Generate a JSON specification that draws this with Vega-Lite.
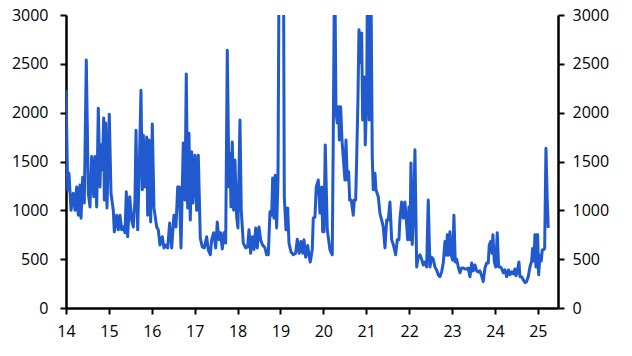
{
  "$schema": "https://vega.github.io/schema/vega-lite/v6.json",
  "width": 492,
  "height": 293,
  "autosize": {"type": "none"},
  "padding": {"left": 66, "top": 15, "right": 74, "bottom": 48},
  "background": "white",
  "config": {
    "view": {"stroke": null},
    "axis": {
      "grid": false,
      "domainColor": "black",
      "domainWidth": 2.5,
      "tickColor": "black",
      "tickWidth": 2,
      "tickSize": 6,
      "labelFont": "Open Sans",
      "labelFontSize": 16,
      "labelColor": "black",
      "titleFont": "Open Sans"
    }
  },
  "data": {
    "values": [
      {"t":14.0,"v":2230},{"t":14.04,"v":1210},{"t":14.07,"v":1380},{"t":14.117,"v":1000},{"t":14.17,"v":1175},{"t":14.21,"v":1000},{"t":14.249,"v":1240},{"t":14.287,"v":950},{"t":14.326,"v":1260},{"t":14.35,"v":920},{"t":14.389,"v":1340},{"t":14.427,"v":1075},{"t":14.473,"v":2540},{"t":14.52,"v":1175},{"t":14.559,"v":1035},{"t":14.599,"v":1550},{"t":14.646,"v":1140},{"t":14.676,"v":1550},{"t":14.716,"v":1035},{"t":14.753,"v":2045},{"t":14.793,"v":1240},{"t":14.816,"v":1670},{"t":14.846,"v":1415},{"t":14.879,"v":1945},{"t":14.893,"v":1105},{"t":14.925,"v":1895},{"t":14.956,"v":1025},{"t":15.009,"v":1985},{"t":15.049,"v":1175},{"t":15.103,"v":1000},{"t":15.126,"v":780},{"t":15.182,"v":950},{"t":15.219,"v":800},{"t":15.259,"v":950},{"t":15.298,"v":800},{"t":15.336,"v":830},{"t":15.375,"v":770},{"t":15.406,"v":1190},{"t":15.438,"v":730},{"t":15.485,"v":1140},{"t":15.531,"v":900},{"t":15.569,"v":830},{"t":15.608,"v":1105},{"t":15.632,"v":1820},{"t":15.671,"v":800},{"t":15.709,"v":1445},{"t":15.748,"v":2230},{"t":15.779,"v":1210},{"t":15.802,"v":1770},{"t":15.841,"v":1240},{"t":15.881,"v":1750},{"t":15.904,"v":950},{"t":15.935,"v":1720},{"t":15.974,"v":880},{"t":16.012,"v":1885},{"t":16.051,"v":1025},{"t":16.114,"v":830},{"t":16.152,"v":800},{"t":16.191,"v":645},{"t":16.245,"v":730},{"t":16.284,"v":615},{"t":16.331,"v":645},{"t":16.371,"v":615},{"t":16.417,"v":870},{"t":16.464,"v":615},{"t":16.517,"v":950},{"t":16.564,"v":830},{"t":16.604,"v":1240},{"t":16.641,"v":1240},{"t":16.681,"v":615},{"t":16.734,"v":1690},{"t":16.774,"v":1105},{"t":16.804,"v":2395},{"t":16.837,"v":1025},{"t":16.867,"v":1790},{"t":16.897,"v":900},{"t":16.93,"v":1600},{"t":16.96,"v":1075},{"t":17.007,"v":1565},{"t":17.047,"v":1000},{"t":17.084,"v":1565},{"t":17.131,"v":715},{"t":17.177,"v":625},{"t":17.224,"v":615},{"t":17.28,"v":730},{"t":17.317,"v":595},{"t":17.364,"v":545},{"t":17.396,"v":700},{"t":17.443,"v":770},{"t":17.49,"v":615},{"t":17.527,"v":880},{"t":17.566,"v":700},{"t":17.606,"v":770},{"t":17.643,"v":605},{"t":17.683,"v":770},{"t":17.723,"v":665},{"t":17.76,"v":2640},{"t":17.8,"v":1240},{"t":17.823,"v":1585},{"t":17.846,"v":1035},{"t":17.876,"v":1700},{"t":17.909,"v":1000},{"t":17.939,"v":1515},{"t":17.979,"v":930},{"t":18.009,"v":820},{"t":18.056,"v":1925},{"t":18.086,"v":1000},{"t":18.133,"v":665},{"t":18.189,"v":615},{"t":18.235,"v":625},{"t":18.266,"v":800},{"t":18.305,"v":560},{"t":18.343,"v":730},{"t":18.382,"v":600},{"t":18.422,"v":820},{"t":18.459,"v":615},{"t":18.499,"v":830},{"t":18.538,"v":700},{"t":18.576,"v":650},{"t":18.639,"v":615},{"t":18.678,"v":545},{"t":18.716,"v":545},{"t":18.755,"v":985},{"t":18.795,"v":950},{"t":18.818,"v":1330},{"t":18.848,"v":920},{"t":18.879,"v":1360},{"t":18.911,"v":820},{"t":18.942,"v":1310},{"t":18.975,"v":4200},{"t":19.02,"v":3900},{"t":19.065,"v":4200},{"t":19.089,"v":1140},{"t":19.128,"v":800},{"t":19.168,"v":1025},{"t":19.198,"v":665},{"t":19.245,"v":575},{"t":19.298,"v":545},{"t":19.354,"v":560},{"t":19.392,"v":705},{"t":19.438,"v":560},{"t":19.478,"v":680},{"t":19.518,"v":560},{"t":19.548,"v":700},{"t":19.587,"v":520},{"t":19.634,"v":640},{"t":19.664,"v":540},{"t":19.695,"v":470},{"t":19.741,"v":600},{"t":19.765,"v":920},{"t":19.804,"v":930},{"t":19.834,"v":1240},{"t":19.881,"v":1310},{"t":19.921,"v":970},{"t":19.96,"v":1240},{"t":19.984,"v":780},{"t":20.014,"v":780},{"t":20.044,"v":1670},{"t":20.091,"v":800},{"t":20.154,"v":595},{"t":20.207,"v":545},{"t":20.231,"v":1750},{"t":20.263,"v":3700},{"t":20.294,"v":2010},{"t":20.324,"v":1895},{"t":20.357,"v":2060},{"t":20.371,"v":1720},{"t":20.403,"v":2060},{"t":20.434,"v":1720},{"t":20.503,"v":1310},{"t":20.527,"v":1720},{"t":20.557,"v":1310},{"t":20.59,"v":1395},{"t":20.613,"v":1105},{"t":20.65,"v":1105},{"t":20.697,"v":950},{"t":20.72,"v":1105},{"t":20.753,"v":1105},{"t":20.776,"v":1515},{"t":20.806,"v":2130},{"t":20.83,"v":2850},{"t":20.869,"v":2510},{"t":20.893,"v":2815},{"t":20.916,"v":1925},{"t":20.953,"v":2365},{"t":20.977,"v":1670},{"t":21.009,"v":2130},{"t":21.033,"v":3700},{"t":21.07,"v":1925},{"t":21.103,"v":3700},{"t":21.14,"v":1550},{"t":21.163,"v":1210},{"t":21.203,"v":1380},{"t":21.226,"v":1210},{"t":21.28,"v":1140},{"t":21.319,"v":970},{"t":21.359,"v":900},{"t":21.396,"v":830},{"t":21.436,"v":615},{"t":21.476,"v":900},{"t":21.513,"v":900},{"t":21.552,"v":1085},{"t":21.592,"v":700},{"t":21.629,"v":650},{"t":21.685,"v":545},{"t":21.723,"v":700},{"t":21.762,"v":700},{"t":21.786,"v":920},{"t":21.825,"v":1085},{"t":21.862,"v":920},{"t":21.902,"v":1085},{"t":21.942,"v":850},{"t":21.965,"v":700},{"t":21.995,"v":1035},{"t":22.019,"v":700},{"t":22.042,"v":1485},{"t":22.072,"v":650},{"t":22.105,"v":1000},{"t":22.135,"v":1620},{"t":22.175,"v":420},{"t":22.212,"v":520},{"t":22.252,"v":545},{"t":22.291,"v":500},{"t":22.329,"v":440},{"t":22.368,"v":470},{"t":22.408,"v":420},{"t":22.445,"v":1105},{"t":22.485,"v":420},{"t":22.524,"v":520},{"t":22.562,"v":500},{"t":22.601,"v":420},{"t":22.641,"v":390},{"t":22.678,"v":340},{"t":22.718,"v":320},{"t":22.757,"v":370},{"t":22.795,"v":460},{"t":22.834,"v":680},{"t":22.874,"v":540},{"t":22.888,"v":750},{"t":22.916,"v":540},{"t":22.951,"v":780},{"t":22.981,"v":540},{"t":23.014,"v":490},{"t":23.044,"v":950},{"t":23.075,"v":470},{"t":23.107,"v":500},{"t":23.145,"v":420},{"t":23.184,"v":360},{"t":23.224,"v":410},{"t":23.261,"v":410},{"t":23.301,"v":400},{"t":23.34,"v":400},{"t":23.378,"v":410},{"t":23.417,"v":320},{"t":23.457,"v":460},{"t":23.494,"v":380},{"t":23.534,"v":440},{"t":23.573,"v":380},{"t":23.611,"v":370},{"t":23.65,"v":380},{"t":23.69,"v":330},{"t":23.727,"v":270},{"t":23.767,"v":410},{"t":23.806,"v":460},{"t":23.844,"v":460},{"t":23.867,"v":645},{"t":23.9,"v":680},{"t":23.93,"v":560},{"t":23.953,"v":750},{"t":23.984,"v":480},{"t":24.016,"v":420},{"t":24.054,"v":770},{"t":24.086,"v":420},{"t":24.128,"v":420},{"t":24.163,"v":400},{"t":24.193,"v":360},{"t":24.233,"v":390},{"t":24.273,"v":320},{"t":24.315,"v":390},{"t":24.35,"v":340},{"t":24.389,"v":370},{"t":24.427,"v":350},{"t":24.466,"v":400},{"t":24.49,"v":330},{"t":24.52,"v":370},{"t":24.559,"v":470},{"t":24.583,"v":320},{"t":24.622,"v":320},{"t":24.66,"v":290},{"t":24.699,"v":260},{"t":24.739,"v":270},{"t":24.776,"v":320},{"t":24.816,"v":420},{"t":24.855,"v":480},{"t":24.879,"v":610},{"t":24.909,"v":480},{"t":24.932,"v":750},{"t":24.956,"v":420},{"t":24.972,"v":750},{"t":24.995,"v":750},{"t":25.019,"v":340},{"t":25.049,"v":540},{"t":25.079,"v":480},{"t":25.103,"v":595},{"t":25.126,"v":595},{"t":25.159,"v":610},{"t":25.189,"v":1635},{"t":25.219,"v":1105},{"t":25.242,"v":820}
    ]
  },
  "layer": [
    {
      "mark": {"type": "line", "color": "#2159CE", "strokeWidth": 3, "clip": true, "strokeJoin": "round"},
      "encoding": {
        "x": {"field": "t", "type": "quantitative",
              "scale": {"domain": [14, 25.47], "nice": false, "zero": false},
              "axis": {"values": [14,15,16,17,18,19,20,21,22,23,24,25], "format": "d", "title": null, "labelPadding": 9, "labelFlush": false}},
        "y": {"field": "v", "type": "quantitative",
              "scale": {"domain": [0, 3000], "nice": false},
              "axis": {"orient": "left", "values": [0,500,1000,1500,2000,2500,3000], "title": null, "labelPadding": 12, "format": "d"}}
      }
    },
    {
      "mark": {"type": "line", "strokeOpacity": 0, "clip": true},
      "encoding": {
        "x": {"field": "t", "type": "quantitative",
              "scale": {"domain": [14, 25.47], "nice": false, "zero": false},
              "axis": {"values": [14,15,16,17,18,19,20,21,22,23,24,25], "format": "d", "title": null, "labelPadding": 9, "labelFlush": false}},
        "y": {"field": "v", "type": "quantitative",
              "scale": {"domain": [0, 3000], "nice": false},
              "axis": {"orient": "right", "values": [0,500,1000,1500,2000,2500,3000], "title": null, "labelPadding": 8, "format": "d"}}
      }
    }
  ],
  "resolve": {"axis": {"y": "independent"}}
}
